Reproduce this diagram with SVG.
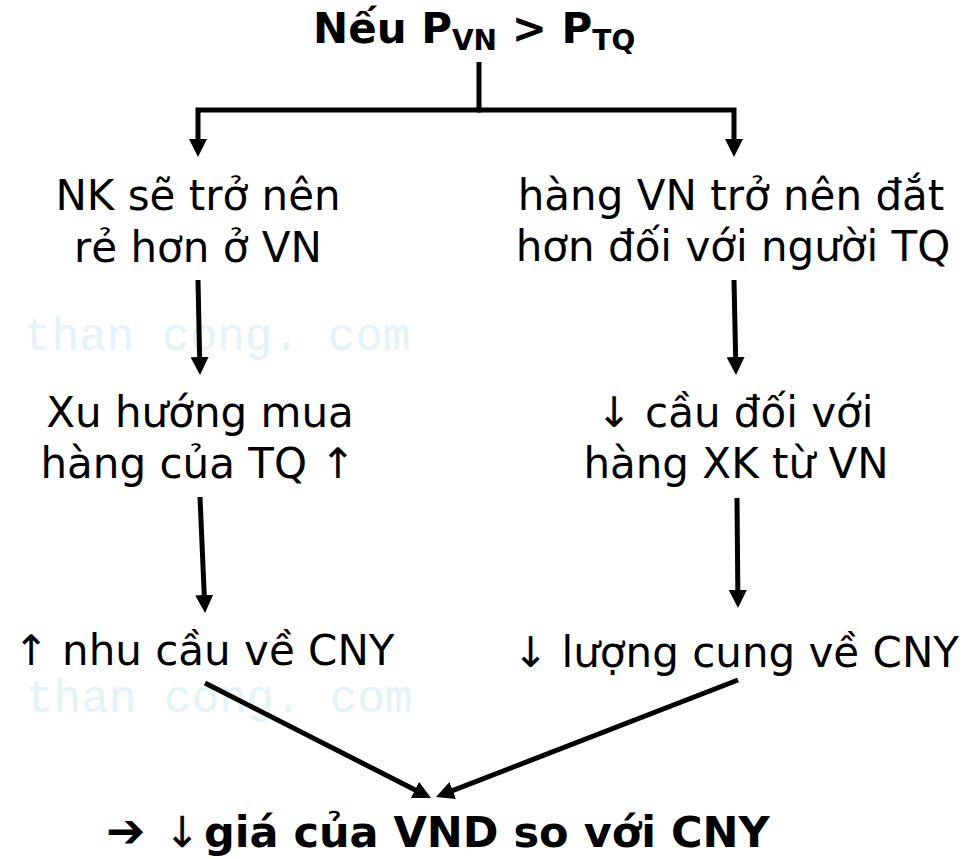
<svg xmlns="http://www.w3.org/2000/svg" width="975" height="859" viewBox="0 0 975 859">
<style>
.t{font-family:"DejaVu Sans",Verdana,"Noto Sans",sans-serif;font-size:42px;fill:#000;text-anchor:middle}
.b{font-family:"DejaVu Sans",Verdana,"Noto Sans",sans-serif;font-weight:bold;fill:#000}
.wm{font-family:"Liberation Mono","DejaVu Sans Mono",monospace;font-size:46px;fill:#e4f2f9}
.c{fill:none;stroke:#000;stroke-width:5}
</style>
<defs>
<marker id="ah" markerUnits="userSpaceOnUse" markerWidth="18" markerHeight="18" refX="8" refY="9" orient="auto">
<path d="M0,0 L18,9 L0,18 z" fill="#000"/>
</marker>
</defs>
<rect width="975" height="859" fill="#fff"/>
<g id="watermarks">
<text class="wm" x="24" y="350">than cong. com</text>
<text class="wm" x="26" y="712">than cong. com</text>
</g>
<g id="connectors">
<path class="c" d="M479,62 V110"/>
<path class="c" d="M481,110 H198 V147" marker-end="url(#ah)"/>
<path class="c" d="M477,110 H734 V147" marker-end="url(#ah)"/>
<path class="c" d="M198,280 L199.8,365" marker-end="url(#ah)"/>
<path class="c" d="M200,497 L204.6,603" marker-end="url(#ah)"/>
<path class="c" d="M205,683 L422.1,793.5" marker-end="url(#ah)"/>
<path class="c" d="M734,280 L735.8,365" marker-end="url(#ah)"/>
<path class="c" d="M737,498 L737.9,598" marker-end="url(#ah)"/>
<path class="c" d="M738,680 L445.3,793.4" marker-end="url(#ah)"/>
</g>
<g id="title">
<text class="b" x="313" y="43" font-size="42">Nếu P<tspan font-size="28" dy="7">VN</tspan><tspan dy="-7"> &gt; P</tspan><tspan font-size="28" dy="7">TQ</tspan></text>
</g>
<g id="n1">
<text class="t" x="198" y="210">NK sẽ trở nên</text>
<text class="t" x="198" y="262">rẻ hơn ở VN</text>
</g>
<g id="n2">
<text class="t" x="731" y="210">hàng VN trở nên đắt</text>
<text class="t" x="733" y="261">hơn đối với người TQ</text>
</g>
<g id="n3">
<text class="t" x="200" y="427">Xu hướng mua</text>
<text class="t" x="198" y="478">hàng của TQ ↑</text>
</g>
<g id="n4">
<text class="t" x="735" y="427">↓ cầu đối với</text>
<text class="t" x="736" y="478">hàng XK từ VN</text>
</g>
<g id="n5">
<text class="t" x="204" y="665">↑ nhu cầu về CNY</text>
</g>
<g id="n6">
<text class="t" x="736" y="667">↓ lượng cung về CNY</text>
</g>
<g id="result">
<text class="b" y="847" font-size="43"><tspan x="106" font-size="47">➔</tspan><tspan x="164" font-weight="normal">↓</tspan><tspan x="204">giá của VND so với CNY</tspan></text>
</g>
</svg>
